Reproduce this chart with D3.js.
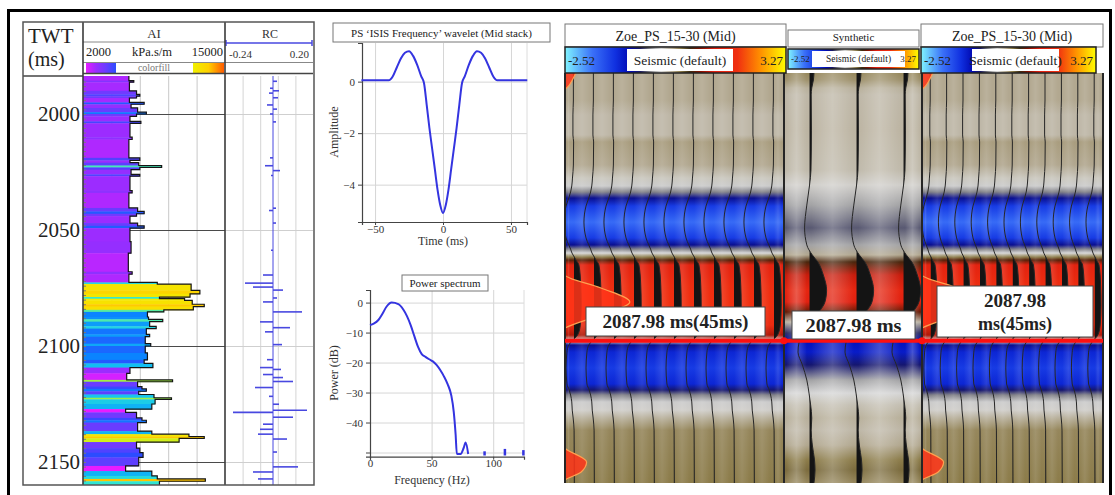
<!DOCTYPE html>
<html>
<head>
<meta charset="utf-8">
<script src="https://cdn.jsdelivr.net/npm/d3@7/dist/d3.min.js"></script>
<style>
  body { margin: 0; background: #fff; }
  svg { display: block; }
</style>
</head>
<body>
<svg id="fig" width="1115" height="495" font-family="Liberation Serif, Times New Roman, DejaVu Serif, serif"></svg>
<script>
// ---------- well log (TWT in ms) ----------
var twtTicks = [2000, 2050, 2100, 2150];
var aiTop = [1983.6, 1985.6, 1986.3, 1990.0, 1991.5, 1992.3, 1993.1, 1995.0, 1995.8, 1997.4, 1999.2, 2000.0, 2001.0,
  2003.2, 2004.0, 2010.0, 2011.0, 2018.9, 2020.0, 2021.0, 2022.2, 2023.0, 2024.0, 2026.0, 2026.8, 2033.0, 2034.0,
  2040.5, 2042.0, 2043.0, 2044.0, 2047.0, 2048.2, 2049.2, 2055.0, 2060.0, 2068.0, 2069.0,
  2072.6, 2073.3, 2076.0, 2077.5, 2078.9, 2079.6, 2080.3, 2082.0, 2083.0, 2084.4, 2085.3, 2087.5, 2088.5, 2089.5,
  2091.5, 2092.5, 2095.0, 2096.0, 2099.0, 2100.0, 2103.0, 2106.0, 2107.5, 2109.3, 2111.8, 2114.6, 2115.4, 2117.5,
  2118.5, 2119.5, 2120.9, 2122.3, 2123.0, 2125.0, 2127.2, 2128.6, 2131.0, 2132.0, 2133.0, 2136.7, 2138.0, 2139.0,
  2139.8, 2141.4, 2144.0, 2146.0, 2148.0, 2151.7, 2153.9, 2156.0, 2157.3, 2158.3];
var aiVal = [6200, 6650, 6250, 6900, 7200, 6900, 6250, 7600, 6400, 7000, 7800, 6900, 6300,
  7300, 6300, 6500, 6200, 7200, 6300, 7100, 9200, 7200, 6400, 7200, 6300, 6500, 6200,
  7000, 7600, 6900, 6300, 7000, 7600, 6300, 6400, 6150, 6500, 6200,
  8800, 11900, 12700, 11800, 9000, 11300, 12000, 13100, 12100, 9400, 7900, 8000, 9300, 8100,
  8700, 7800, 8100, 7700, 8200, 7700, 7900, 7600, 8400, 6300, 6000, 10200, 7000, 7400,
  7800, 7100, 8500, 10100, 8600, 8300, 5900, 6900, 7400, 7800, 7000, 8300, 11700, 13100,
  10800, 6900, 7200, 7500, 7100, 5900, 8300, 8800, 13200, 9000];
var aiEnd = 2160;
var rcTime = [1985.9, 1988.9, 1990.0, 1991.0, 1993.0, 1996.1, 1997.9, 2000.0, 2003.4, 2018.9, 2022.3, 2024.4, 2026.5,
  2040.6, 2041.6, 2047.0, 2058.7, 2069.4, 2072.9, 2074.6, 2075.9, 2079.3, 2081.0, 2085.3, 2089.6, 2092.1, 2093.9,
  2099.4, 2105.9, 2109.3, 2110.1, 2112.3, 2113.6, 2115.3, 2117.9, 2121.7, 2125.1, 2127.7, 2128.6, 2130.7, 2133.7,
  2135.9, 2138.0, 2140.1, 2145.7, 2152.1, 2154.3, 2157.3];
var rcVal = [0.02, -0.015, 0.03, -0.02, 0.025, -0.03, 0.02, -0.015, 0.015, -0.015, -0.04, 0.035, -0.01,
  0.015, -0.02, 0.015, -0.01, -0.05, -0.14, -0.10, 0.05, 0.02, -0.05, 0.145, -0.065, 0.085, -0.04,
  0.045, -0.03, -0.065, 0.04, -0.05, 0.05, 0.10, -0.09, -0.02, 0.03, 0.17, -0.20, 0.10, -0.05,
  -0.065, -0.075, 0.07, 0.02, 0.125, -0.10, -0.075];

// ---------- wavelet and spectrum ----------
var wvTime = [-60, -50, -40, -37, -34, -31, -28, -25, -22, -19, -16, -14, -12, -10, -8, -6, -4, -2, 0,
  2, 4, 6, 8, 10, 12, 14, 16, 19, 22, 25, 28, 31, 34, 37, 40, 50, 62];
var wvAmp = [0.05, 0.05, 0.05, 0.2, 0.55, 0.9, 1.12, 1.18, 1.0, 0.65, 0.2, -0.05, -0.9, -1.8, -2.6, -3.4, -4.2, -4.8, -5.1,
  -4.8, -4.2, -3.4, -2.6, -1.8, -0.9, -0.05, 0.2, 0.65, 1.0, 1.18, 1.12, 0.9, 0.55, 0.2, 0.05, 0.05, 0.05];
var psFreq = [0, 3, 6.8, 10, 13.5, 17.6, 23, 27, 30, 33, 36, 39, 42, 45, 48, 51, 54, 57, 60, 63, 66, 68, 69.5, 70.5,
  73.5, 76, 77.6, 79.7];
var psPow = [-7.5, -7.0, -5.8, -3.8, -1.3, 0, -0.5, -2.3, -4.5, -7.5, -11.2, -14.8, -17.2, -18.1, -18.9, -19.6, -20.8,
  -22.5, -24.6, -27.2, -31.0, -36.5, -44, -50.5, -50.5, -48.5, -46.7, -50.5];
var psBlipFreq = [93, 109.5, 124.5];
var psBlipPow = [-49.6, -48.8, -49.2];

// ---------- seismic (amplitude vs TWT) ----------
var seisTime = [1973.0, 1984.6, 1991.0, 1999.6, 2002.6, 2012.5, 2018.1, 2021.5, 2024.1, 2026.7, 2030.1, 2037.0, 2043.8,
  2046.8, 2048.6, 2050.3, 2052.0, 2053.3, 2055.4, 2064.0, 2072.6, 2081.2, 2085.5, 2088.0, 2089.8, 2092.8, 2099.6,
  2106.5, 2109.1, 2111.2, 2114.2, 2117.7, 2121.1, 2126.3, 2149.0];
var seisAmp = [0.3, 0.3, 0.2, 0.2, 0.35, 0.3, 0.1, -0.05, -0.3, -0.7, -1.3, -1.75, -1.3,
  -0.7, -0.3, 0.0, 0.5, 0.85, 1.5, 1.9, 2.0, 1.8, 1.2, 0.0, -0.7, -1.1, -1.3,
  -1.1, -0.6, -0.3, -0.05, 0.05, 0.25, 0.45, 0.5];
var synTime = [1973.0, 1976.0, 1979.4, 1982.4, 1997.5, 2014.6, 2021.1, 2029.7, 2039.5, 2046.8, 2051.1, 2054.1, 2059.7,
  2066.2, 2071.3, 2075.6, 2079.9, 2084.6, 2088.5, 2092.8, 2098.3, 2104.8, 2110.4, 2115.5, 2121.1, 2126.3, 2132.7,
  2139.1, 2143.4, 2149.0];
var synAmp = [0.45, 0.4, 0.25, 0.2, 0.22, 0.18, 0.05, -0.2, -0.4, -0.2, 0.3, 0.8, 1.3,
  1.6, 1.45, 0.9, 0.2, -0.5, -0.9, -1.0, -0.6, -0.2, 0.0, 0.15, 0.25, 0.2, 0.3,
  0.5, 0.55, 0.45];
// synthetic trace drawn in red at the well position
var wellTrTime = [1973.0, 1978.2, 1982.4, 2053.3, 2059.7, 2065.3, 2071.3, 2076.8, 2082.5, 2087.6, 2130.5, 2134.0,
  2140.0, 2144.3, 2147.7, 2149.0];
var wellTrAmp = [0.3, 0.12, -0.1, -0.1, 0.0, 1.0, 1.8, 1.0, 0.0, -0.3, -0.1, 0.0,
  0.6, 0.45, 0.0, -0.1];
var pickTime = 2087.98;
var colorMin = -2.52, colorMax = 3.27;

var svg = d3.select("#fig"),
    defs = svg.append("defs");

svg.append("rect").attr("width", 1115).attr("height", 495).attr("fill", "#fff");

/////////////////////////  well panel

var wellTop = 76, wellBot = 485;
var yW = d3.scaleLinear().domain([2000, 2150]).range([114, 462]);
var xAI = d3.scaleLinear().domain([2000, 15000]).range([83, 225]);
var xRC = d3.scaleLinear().domain([-0.24, 0.20]).range([225, 313]);
var aiColor = d3.scaleLinear()
    .domain([5900, 6300, 7000, 7500, 7900, 8400, 9000, 10000, 11200, 13000, 15000])
    .range(["#e81cff", "#9c2cff", "#6a3cff", "#2c4cff", "#0a84ff", "#12bff2", "#30e6d2", "#92f052", "#f0f000", "#ffd000", "#ff5a00"])
    .clamp(true);

defs.append("clipPath").attr("id", "clip-well").append("rect")
    .attr("x", 83).attr("y", wellTop).attr("width", 230).attr("height", wellBot - wellTop);

var well = svg.append("g");

function gridStyle(color) {
  return function(g) {
    g.select(".domain").remove();
    g.selectAll(".tick line").attr("stroke", color).attr("stroke-width", 1);
  };
}

well.append("g").attr("transform", "translate(0," + wellTop + ")")
    .call(d3.axisBottom(xAI).tickValues([4600, 7200, 9800, 12400]).tickSize(wellBot - wellTop).tickFormat(""))
    .call(gridStyle("#c8c8c8"));
well.append("g").attr("transform", "translate(0," + wellTop + ")")
    .call(d3.axisBottom(xRC).tickValues([-0.152, -0.064, 0.024, 0.112]).tickSize(wellBot - wellTop).tickFormat(""))
    .call(gridStyle("#d4d4d4"));
well.append("g").attr("transform", "translate(83,0)")
    .call(d3.axisRight(yW).tickValues(twtTicks).tickSize(142).tickFormat(""))
    .call(gridStyle("#4a4a4a"));
well.append("g").attr("transform", "translate(225,0)")
    .call(d3.axisRight(yW).tickValues(twtTicks).tickSize(88).tickFormat(""))
    .call(gridStyle("#cfcfcf"));

var aiLayers = aiTop.map(function(t, i) {
  return { top: t, bot: i < aiTop.length - 1 ? aiTop[i + 1] : aiEnd, v: aiVal[i] };
});
var logG = well.append("g").attr("clip-path", "url(#clip-well)");
logG.selectAll("rect.ai").data(aiLayers).enter().append("rect")
    .attr("class", "ai")
    .attr("x", xAI(2000))
    .attr("y", function(d) { return yW(d.top); })
    .attr("width", function(d) { return xAI(d.v) - xAI(2000); })
    .attr("height", function(d) { return yW(d.bot) - yW(d.top) + 0.4; })
    .attr("fill", function(d) { return aiColor(d.v); });

var aiPts = [];
aiLayers.forEach(function(d) { aiPts.push([d.v, d.top]); aiPts.push([d.v, d.bot]); });
logG.append("path").datum(aiPts)
    .attr("fill", "none").attr("stroke", "#151515").attr("stroke-width", 1.2)
    .attr("d", d3.line().x(function(p) { return xAI(p[0]); }).y(function(p) { return yW(p[1]); }));

// RC trace
logG.append("line")
    .attr("x1", xRC(0)).attr("x2", xRC(0)).attr("y1", wellTop).attr("y2", wellBot)
    .attr("stroke", "#4848e0").attr("stroke-width", 1);
logG.selectAll("line.rc").data(rcTime).enter().append("line")
    .attr("class", "rc")
    .attr("x1", xRC(0))
    .attr("x2", function(t, i) { return xRC(rcVal[i]); })
    .attr("y1", function(t) { return yW(t); })
    .attr("y2", function(t) { return yW(t); })
    .attr("stroke", "#4848e0").attr("stroke-width", 1.6);

// minor ticks along the AI track
well.append("g").attr("transform", "translate(83,0)")
    .call(d3.axisRight(yW).tickValues(d3.range(1986, 2160, 2)).tickSize(3).tickFormat(""))
    .call(gridStyle("#7a7a7a"));

// TWT labels
well.append("g").attr("transform", "translate(83,0)")
    .call(d3.axisLeft(yW).tickValues(twtTicks).tickSize(0).tickPadding(3).tickFormat(d3.format("d")))
    .call(function(g) {
      g.select(".domain").remove();
      g.selectAll(".tick text").attr("font-size", 21).attr("fill", "#222")
        .attr("font-family", "Liberation Serif, serif");
    });

// header
well.append("text").attr("x", 28).attr("y", 43).attr("font-size", 21).attr("fill", "#222").text("TWT");
well.append("text").attr("x", 28).attr("y", 66).attr("font-size", 20).attr("fill", "#222").text("(ms)");
well.append("text").attr("x", 154).attr("y", 38).attr("font-size", 13).attr("text-anchor", "middle").attr("fill", "#333").text("AI");
well.append("text").attr("x", 86).attr("y", 56).attr("font-size", 12.5).attr("fill", "#222").text("2000");
well.append("text").attr("x", 152).attr("y", 56).attr("font-size", 12.5).attr("text-anchor", "middle").attr("fill", "#222").text("kPa.s/m");
well.append("text").attr("x", 223).attr("y", 56).attr("font-size", 12.5).attr("text-anchor", "end").attr("fill", "#222").text("15000");
well.append("text").attr("x", 154).attr("y", 71).attr("font-size", 10).attr("text-anchor", "middle").attr("fill", "#777").text("colorfill");
well.append("text").attr("x", 270).attr("y", 38).attr("font-size", 12).attr("text-anchor", "middle").attr("fill", "#333").text("RC");
well.append("text").attr("x", 229).attr("y", 58).attr("font-size", 11).attr("fill", "#333").text("-0.24");
well.append("text").attr("x", 309).attr("y", 58).attr("font-size", 11).attr("text-anchor", "end").attr("fill", "#333").text("0.20");

var gLeft = defs.append("linearGradient").attr("id", "ai-left");
[5900, 6300, 7000, 7500].forEach(function(v, i, a) {
  gLeft.append("stop").attr("offset", i / (a.length - 1)).attr("stop-color", aiColor(v));
});
var gRight = defs.append("linearGradient").attr("id", "ai-right");
[11200, 13000, 15000].forEach(function(v, i, a) {
  gRight.append("stop").attr("offset", i / (a.length - 1)).attr("stop-color", aiColor(v));
});
well.append("rect").attr("x", 86).attr("y", 63).attr("width", 30).attr("height", 10).attr("fill", "url(#ai-left)");
well.append("rect").attr("x", 193).attr("y", 63).attr("width", 31).attr("height", 10).attr("fill", "url(#ai-right)");

well.append("line").attr("x1", 226).attr("x2", 312).attr("y1", 43).attr("y2", 43).attr("stroke", "#4848e0").attr("stroke-width", 1.5);
[226, 312].forEach(function(x) {
  well.append("line").attr("x1", x).attr("x2", x).attr("y1", 40).attr("y2", 46).attr("stroke", "#4848e0").attr("stroke-width", 1.5);
});

[[83, 225, 42, "#888", 1], [83, 313, 62.5, "#888", 1], [83, 313, 73.5, "#444", 1.3], [23, 83, 76, "#444", 1.5]].forEach(function(l) {
  well.append("line").attr("x1", l[0]).attr("x2", l[1]).attr("y1", l[2]).attr("y2", l[2])
      .attr("stroke", l[3]).attr("stroke-width", l[4]);
});
[83, 225].forEach(function(x) {
  well.append("line").attr("x1", x).attr("x2", x).attr("y1", 22).attr("y2", wellBot)
      .attr("stroke", "#3a3a3a").attr("stroke-width", 1.6);
});
well.append("rect").attr("x", 23).attr("y", 22).attr("width", 291).attr("height", wellBot - 22)
    .attr("fill", "none").attr("stroke", "#555").attr("stroke-width", 1.5);

/////////////////////////  wavelet

function plotAxes(g, x, y, xTicks, yTicks, yFmt) {
  var x0 = x.range()[0], x1 = x.range()[1], y0 = y.range()[0], y1 = y.range()[1];
  g.append("g").attr("transform", "translate(0," + y1 + ")")
      .call(d3.axisBottom(x).tickValues(xTicks).tickSize(y0 - y1).tickFormat(""))
      .call(gridStyle("#d6d6d6"));
  g.append("g").attr("transform", "translate(" + x0 + ",0)")
      .call(d3.axisRight(y).tickValues(yTicks).tickSize(x1 - x0).tickFormat(""))
      .call(gridStyle("#d6d6d6"));
  g.append("line").attr("x1", x1).attr("x2", x1).attr("y1", y1).attr("y2", y0).attr("stroke", "#dcdcdc");
  g.append("g").attr("transform", "translate(" + x0 + ",0)")
      .call(d3.axisLeft(y).tickValues(yTicks).tickSize(4).tickPadding(3).tickFormat(yFmt))
      .call(axisStyle);
  g.append("g").attr("transform", "translate(0," + y0 + ")")
      .call(d3.axisBottom(x).tickValues(xTicks).tickSize(3).tickPadding(0))
      .call(axisStyle);
}
function axisStyle(g) {
  g.select(".domain").attr("stroke", "#444").attr("stroke-width", 1.2);
  g.selectAll(".tick line").attr("stroke", "#444");
  g.selectAll(".tick text").attr("font-size", 11).attr("fill", "#333")
    .attr("font-family", "Liberation Serif, serif");
}

var xWv = d3.scaleLinear().domain([-59.6, 61.8]).range([362, 527]);
var yWv = d3.scaleLinear().domain([-5.45, 1.5]).range([222, 43]);
var wv = svg.append("g");
plotAxes(wv, xWv, yWv, [-50, 0, 50], [0, -2, -4], d3.format("d"));
wv.append("path").datum(wvTime)
    .attr("fill", "none").attr("stroke", "#3434e0").attr("stroke-width", 2)
    .attr("d", d3.line().curve(d3.curveMonotoneX)
      .x(function(t) { return xWv(t); })
      .y(function(t, i) { return yWv(wvAmp[i]); }));
wv.append("rect").attr("x", 333).attr("y", 23).attr("width", 217).attr("height", 19)
    .attr("fill", "#fff").attr("stroke", "#777");
wv.append("text").attr("x", 441.5).attr("y", 36.5).attr("font-size", 11).attr("text-anchor", "middle")
    .attr("fill", "#222").text("PS \u2018ISIS Frequency\u2019 wavelet (Mid stack)");
wv.append("text").attr("transform", "translate(338,132) rotate(-90)").attr("font-size", 12)
    .attr("text-anchor", "middle").attr("fill", "#333").text("Amplitude");
wv.append("text").attr("x", 443).attr("y", 245).attr("font-size", 12)
    .attr("text-anchor", "middle").attr("fill", "#333").text("Time (ms)");

/////////////////////////  power spectrum

var xPs = d3.scaleLinear().domain([0, 125]).range([370, 524]);
var yPs = d3.scaleLinear().domain([-51.4, 4.2]).range([456.7, 290]);
var ps = svg.append("g");
plotAxes(ps, xPs, yPs, [0, 50, 100], [0, -10, -20, -30, -40, -50],
  function(v) { return v === -50 ? "" : d3.format("d")(v); });
ps.append("path").datum(psFreq)
    .attr("fill", "none").attr("stroke", "#3434e0").attr("stroke-width", 2)
    .attr("d", d3.line().curve(d3.curveMonotoneX)
      .x(function(f) { return xPs(f); })
      .y(function(f, i) { return yPs(psPow[i]); }));
ps.selectAll("line.blip").data(psBlipFreq).enter().append("line")
    .attr("x1", function(f) { return xPs(f); }).attr("x2", function(f) { return xPs(f); })
    .attr("y1", yPs(-51)).attr("y2", function(f, i) { return yPs(psBlipPow[i]); })
    .attr("stroke", "#3434e0").attr("stroke-width", 2.5);
ps.append("rect").attr("x", 402).attr("y", 275).attr("width", 86).attr("height", 16)
    .attr("fill", "#fff").attr("stroke", "#777");
ps.append("text").attr("x", 445).attr("y", 287).attr("font-size", 11).attr("text-anchor", "middle")
    .attr("fill", "#222").text("Power spectrum");
ps.append("text").attr("transform", "translate(338,373) rotate(-90)").attr("font-size", 12)
    .attr("text-anchor", "middle").attr("fill", "#333").text("Power (dB)");
ps.append("text").attr("x", 432).attr("y", 484).attr("font-size", 12)
    .attr("text-anchor", "middle").attr("fill", "#333").text("Frequency (Hz)");

/////////////////////////  seismic panels

var ys = d3.scaleLinear().domain([1973, 2149]).range([73, 483]);
var seisColor = d3.scaleLinear()
    .domain([-2.52, -1.8, -1.2, -0.8, -0.55, -0.35, -0.15, 0, 0.15, 0.3, 0.5, 0.75, 1.0, 1.4, 2.0, 2.6, 3.27])
    .range(["#80f4ff", "#3a70f8", "#1030e0", "#0008b0", "#1a1a60", "#6e6e78", "#b4b4b4", "#d6d6d6", "#c4bfb2",
            "#b2a890", "#8c7c4a", "#3c2c10", "#801000", "#e02010", "#f03010", "#ff9000", "#ffff00"]);

function vdGradient(id, times, amps) {
  var gr = defs.append("linearGradient").attr("id", id)
      .attr("gradientUnits", "userSpaceOnUse")
      .attr("x1", 0).attr("x2", 0).attr("y1", ys.range()[0]).attr("y2", ys.range()[1]);
  gr.selectAll("stop").data(times).enter().append("stop")
      .attr("offset", function(t) { return (ys(t) - ys.range()[0]) / (ys.range()[1] - ys.range()[0]); })
      .attr("stop-color", function(t, i) { return seisColor(amps[i]); });
}

var stripe = defs.append("linearGradient").attr("id", "stripe");
stripe.append("stop").attr("offset", 0).attr("stop-color", "#fff").attr("stop-opacity", 0);
stripe.append("stop").attr("offset", 0.5).attr("stop-color", "#fff").attr("stop-opacity", 0.45);
stripe.append("stop").attr("offset", 1).attr("stop-color", "#fff").attr("stop-opacity", 0);

var cbar = defs.append("linearGradient").attr("id", "cbar");
seisColor.domain().forEach(function(a, i) {
  cbar.append("stop").attr("offset", (a - colorMin) / (colorMax - colorMin)).attr("stop-color", seisColor.range()[i]);
});

var traceIdx = d3.range(11);
var p1X = d3.scaleLinear().domain([0, 10]).range([572, 772]);
var p3X = d3.scaleLinear().domain([0, 10]).range([929, 1093]);
var synX = d3.scaleLinear().domain([0, 2]).range([809, 903]);
// fillFrom: amplitude above which the positive lobe is shaded black
var panels = [
  { id: "p1", left: 565, right: 784, xs: traceIdx.map(p1X), times: seisTime, amps: seisAmp, gain: 4.6, fillFrom: 0.45, stripe: 0.25, wellX: 565 },
  { id: "syn", left: 784, right: 922, xs: [0, 1, 2].map(synX), times: synTime, amps: synAmp, gain: 11, fillFrom: 0.05, stripe: 0.55 },
  { id: "p3", left: 922, right: 1103, xs: traceIdx.map(p3X), times: seisTime, amps: seisAmp, gain: 4, fillFrom: 0.45, stripe: 0.25, wellX: 922 }
];
var wellPts = wellTrTime.map(function(t, i) { return { t: t, a: wellTrAmp[i] }; });

panels.forEach(function(p) {
  vdGradient("vd-" + p.id, p.times, p.amps);
  defs.append("clipPath").attr("id", "clip-" + p.id).append("rect")
      .attr("x", p.left).attr("y", 73).attr("width", p.right - p.left).attr("height", 410);
  var g = svg.append("g").attr("clip-path", "url(#clip-" + p.id + ")");
  g.append("rect").attr("x", p.left).attr("y", 73).attr("width", p.right - p.left).attr("height", 410)
      .attr("fill", "url(#vd-" + p.id + ")");

  var edges = [p.left].concat(p.xs).concat([p.right]);
  g.append("g").attr("opacity", p.stripe).selectAll("rect").data(d3.pairs(edges)).enter().append("rect")
      .attr("x", function(d) { return d[0] + 2; }).attr("y", 73)
      .attr("width", function(d) { return d[1] - d[0] - 4; }).attr("height", 410)
      .attr("fill", "url(#stripe)");

  var pts = p.times.map(function(t, i) { return { t: t, a: p.amps[i] }; });
  p.xs.forEach(function(bx, k) {
    var cid = "pos-" + p.id + "-" + k;
    var fx = bx + p.gain * p.fillFrom;
    defs.append("clipPath").attr("id", cid).append("rect")
        .attr("x", fx).attr("y", 73).attr("width", 100).attr("height", 410);
    g.append("path").datum(pts)
        .attr("fill", "#141414").attr("clip-path", "url(#" + cid + ")")
        .attr("d", d3.area().curve(d3.curveMonotoneY)
          .y(function(d) { return ys(d.t); }).x0(bx)
          .x1(function(d) { return bx + p.gain * d.a; }));
    g.append("path").datum(pts)
        .attr("fill", "none").attr("stroke", "#262626").attr("stroke-width", 1)
        .attr("d", d3.line().curve(d3.curveMonotoneY)
          .y(function(d) { return ys(d.t); })
          .x(function(d) { return bx + p.gain * d.a; }));
  });

  if (p.wellX) {
    var wid = "pos-well-" + p.id;
    defs.append("clipPath").attr("id", wid).append("rect")
        .attr("x", p.wellX).attr("y", 73).attr("width", 120).attr("height", 410);
    var wg = g.append("g").attr("clip-path", "url(#" + wid + ")");
    var wx = p.wellX;
    wg.append("path").datum(wellPts)
        .attr("fill", "#ff3418").attr("fill-opacity", 0.85)
        .attr("d", d3.area().curve(d3.curveMonotoneY)
          .y(function(d) { return ys(d.t); }).x0(wx)
          .x1(function(d) { return wx + 36 * d.a; }));
    wg.append("path").datum(wellPts)
        .attr("fill", "none").attr("stroke", "#ffa050").attr("stroke-width", 1.2)
        .attr("d", d3.line().curve(d3.curveMonotoneY)
          .y(function(d) { return ys(d.t); })
          .x(function(d) { return wx + 36 * d.a; }));
  }
});

[565, 784, 922, 1103].forEach(function(x) {
  svg.append("line").attr("x1", x).attr("x2", x).attr("y1", 73).attr("y2", 483)
      .attr("stroke", "#262626").attr("stroke-width", 2);
});

// picked horizon
var yPick = ys(pickTime);
svg.append("line").attr("x1", 565).attr("x2", 1103).attr("y1", yPick).attr("y2", yPick)
    .attr("stroke", "#ff1010").attr("stroke-width", 4);
[784, 922].forEach(function(x) {
  svg.append("circle").attr("cx", x).attr("cy", yPick).attr("r", 3.5).attr("fill", "#ff1010");
});

var pickLabel = d3.format(".2f")(pickTime) + " ms";
var boxes = [
  { x: 586, y: 307, w: 179, h: 29, lines: [pickLabel + "(45ms)"], tw: [146] },
  { x: 792, y: 311, w: 123, h: 28, lines: [pickLabel], tw: [96] },
  { x: 937, y: 286, w: 156, h: 51, lines: [d3.format(".2f")(pickTime), "ms(45ms)"], tw: [62, 74] }
];
boxes.forEach(function(b) {
  svg.append("rect").attr("x", b.x).attr("y", b.y).attr("width", b.w).attr("height", b.h)
      .attr("fill", "#fff").attr("stroke", "#444").attr("stroke-width", 1);
  b.lines.forEach(function(s, i) {
    svg.append("text").attr("x", b.x + b.w / 2).attr("y", b.y + 21 + i * 23)
        .attr("text-anchor", "middle").attr("font-size", 18).attr("font-weight", "bold")
        .attr("font-family", "Liberation Serif, serif")
        .attr("textLength", b.tw[i]).attr("lengthAdjust", "spacingAndGlyphs")
        .attr("fill", "#222").text(s);
  });
});

// panel headers
var heads = [
  { x: 565, w: 221, ty: 24, th: 23, title: "Zoe_PS_15-30 (Mid)", tfs: 14, cy: 47, ch: 26, cw: 221, lx: 627, lw: 106, fs: 13.5, nfs: 13 },
  { x: 788, w: 131, ty: 30, th: 17, title: "Synthetic", tfs: 11, cy: 49, ch: 20, cw: 131, lx: 812, lw: 93, fs: 9.5, nfs: 9 },
  { x: 921, w: 182, ty: 24, th: 23, title: "Zoe_PS_15-30 (Mid)", tfs: 14, cy: 47, ch: 26, cw: 175, lx: 972, lw: 87, fs: 13.5, nfs: 13 }
];
heads.forEach(function(h) {
  svg.append("rect").attr("x", h.x).attr("y", h.ty).attr("width", h.w).attr("height", h.th)
      .attr("fill", "#fff").attr("stroke", "#777");
  svg.append("text").attr("x", h.x + h.w / 2).attr("y", h.ty + h.th - 6).attr("text-anchor", "middle")
      .attr("font-size", h.tfs).attr("fill", "#222").text(h.title);
  svg.append("rect").attr("x", h.x).attr("y", h.cy).attr("width", h.cw).attr("height", h.ch)
      .attr("fill", "url(#cbar)").attr("stroke", "#222").attr("stroke-width", 1.5);
  svg.append("rect").attr("x", h.lx).attr("y", h.cy + 2).attr("width", h.lw).attr("height", h.ch - 4)
      .attr("fill", "#fff");
  var by = h.cy + h.ch / 2 + h.fs * 0.35;
  svg.append("text").attr("x", h.lx + h.lw / 2).attr("y", by).attr("text-anchor", "middle")
      .attr("font-size", h.fs).attr("fill", "#222").text("Seismic (default)");
  svg.append("text").attr("x", h.x + 3).attr("y", by).attr("font-size", h.nfs).attr("fill", "#222").text(colorMin);
  svg.append("text").attr("x", h.x + h.cw - 3).attr("y", by).attr("text-anchor", "end")
      .attr("font-size", h.nfs).attr("fill", "#222").text(colorMax);
});

// outer frame
svg.append("rect").attr("x", 8.5).attr("y", 10.5).attr("width", 1102).attr("height", 500)
    .attr("fill", "none").attr("stroke", "#000").attr("stroke-width", 3);
</script>
</body>
</html>
